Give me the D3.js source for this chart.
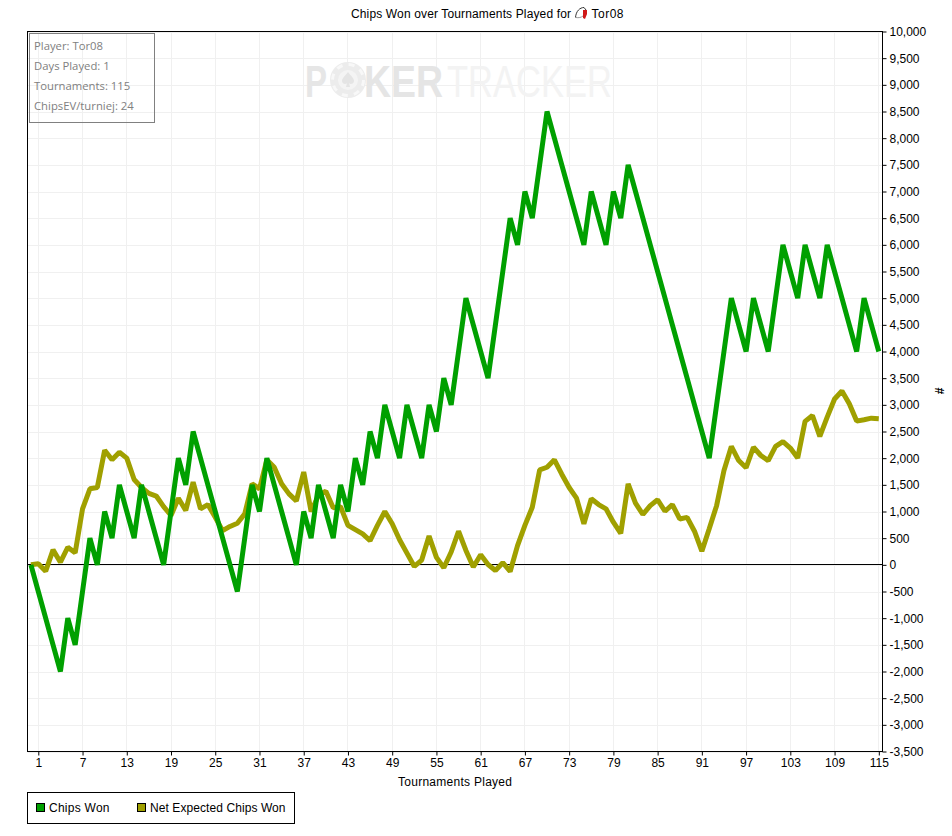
<!DOCTYPE html>
<html><head><meta charset="utf-8">
<script src="https://cdn.jsdelivr.net/npm/d3@7"></script>
<style>
html,body{margin:0;padding:0;background:#fff}
svg{display:block}
text{font-family:"Liberation Sans",Arial,sans-serif;font-size:12px;fill:#000}
.info text{font-family:"Open Sans","Noto Sans",sans-serif;font-size:11.3px;fill:#808080}
.wm text{font-family:"Liberation Sans",sans-serif;font-size:44px}
</style></head><body><div id="c"></div>
<script>
const games = d3.range(0,116);
const chipsWon = [0,-500,-1000,-1500,-2000,-1000,-1500,-500,500,0,1000,500,1500,1000,500,1500,1000,500,0,1000,2000,1500,2500,2000,1500,1000,500,0,-500,500,1500,1000,2000,1500,1000,500,0,1000,500,1500,1000,500,1500,1000,2000,1500,2500,2000,3000,2500,2000,3000,2500,2000,3000,2500,3500,3000,4000,5000,4500,4000,3500,4500,5500,6500,6000,7000,6500,7500,8500,8000,7500,7000,6500,6000,7000,6500,6000,7000,6500,7500,7000,6500,6000,5500,5000,4500,4000,3500,3000,2500,2000,3000,4000,5000,4500,4000,5000,4500,4000,5000,6000,5500,5000,6000,5500,5000,6000,5500,5000,4500,4000,5000,4500,4000];
const netExpected = [0,20,-120,280,50,330,225,1050,1425,1450,2150,1970,2110,2000,1600,1450,1340,1290,1090,925,1250,1020,1550,1050,1130,890,640,720,780,955,1520,1425,1970,1830,1520,1330,1200,1740,1000,1300,1380,1070,1090,740,660,580,455,740,1000,770,470,220,-30,90,540,140,-55,240,630,270,-40,190,5,-105,40,-125,360,740,1080,1780,1830,1970,1700,1450,1250,770,1240,1130,1050,800,590,1520,1155,945,1110,1220,1005,1130,860,890,630,255,675,1110,1770,2220,1955,1820,2205,2050,1955,2220,2310,2190,2005,2690,2800,2410,2770,3110,3260,3020,2695,2720,2750,2740];
const xTicks = [1,7,13,19,25,31,37,43,49,55,61,67,73,79,85,91,97,103,109,115];
const yTicks = d3.range(-3500,10001,500);
const infoLines = ["Player: Tor08","Days Played: 1","Tournaments: 115","ChipsEV/turniej: 24"];
const seriesNames = ["Chips Won","Net Expected Chips Won"];
const seriesColors = ["#00a000","#a0a000"];

const W=952,H=836,L=27.5,R=882.5,T=31.5,B=751.5;
const svg=d3.select("#c").append("svg").attr("width",W).attr("height",H);
const x=d3.scaleLinear().domain([1,115]).range([38.3,878.8]);
const y=d3.scaleLinear().domain([-3500,10000]).range([B,T]);

const grid=svg.append("g").attr("stroke","#f0f0f0").attr("stroke-width",1);
grid.selectAll(".h").data(yTicks).join("line").attr("x1",L).attr("x2",R)
  .attr("y1",d=>Math.round(y(d))+.5).attr("y2",d=>Math.round(y(d))+.5);
grid.selectAll(".v").data(xTicks).join("line").attr("y1",T).attr("y2",B)
  .attr("x1",d=>Math.floor(x(d))+.5).attr("x2",d=>Math.floor(x(d))+.5);

// faint watermark
const wm=svg.append("g").attr("class","wm");
wm.append("text").attr("transform","translate(305,96.5) scale(.75,1)").style("font-weight",700).style("fill","#e6e6e6").text("P");
wm.append("circle").attr("cx",348).attr("cy",80).attr("r",18).attr("fill","#ececec");
wm.append("circle").attr("cx",348).attr("cy",80).attr("r",15.5).attr("fill","none").attr("stroke","#f8f8f8").attr("stroke-width",3).attr("stroke-dasharray","6 6.2");
wm.append("circle").attr("cx",348).attr("cy",80).attr("r",10).attr("fill","#f4f4f4");
wm.append("path").attr("d","M348,72C351,76 354,78 354,81C354,84 350,85 349,83L350,87L346,87L347,83C346,85 342,84 342,81C342,78 345,76 348,72Z").attr("fill","#e4e4e4");
wm.append("text").attr("transform","translate(364,96.5) scale(.85,1)").style("font-weight",700).style("fill","#e5e5e5").text("KER");
wm.append("text").attr("transform","translate(447,96.5) scale(.785,1)").style("fill","#f3f3f3").text("TRACKER");

// zero line
svg.append("line").attr("x1",L).attr("x2",R).attr("y1",Math.round(y(0))-.5).attr("y2",Math.round(y(0))-.5).attr("stroke","#000");

const line=s=>d3.line().x((d,i)=>x(games[i])).y(d=>y(d))(s);
svg.append("path").attr("d",line(netExpected)).attr("fill","none").attr("stroke",seriesColors[1]).attr("stroke-width",5).attr("stroke-linejoin","bevel");
svg.append("path").attr("d",line(chipsWon)).attr("fill","none").attr("stroke",seriesColors[0]).attr("stroke-width",5).attr("stroke-linejoin","bevel");

// axes
const ax=svg.append("g").attr("transform",`translate(0,${B})`).call(d3.axisBottom(x).tickValues(xTicks).tickSize(4).tickPadding(3).tickFormat(d3.format("d")));
const ay=svg.append("g").attr("transform",`translate(${R},0)`).call(d3.axisRight(y).tickValues(yTicks).tickSize(4).tickPadding(3).tickFormat(d3.format(",")));
[ax,ay].forEach(a=>{a.attr("font-family",null).attr("font-size",null);a.selectAll("text").style("font-size","12px").style("fill","#000");a.selectAll("line").attr("stroke","#000");a.select(".domain").remove();});
ay.selectAll("text").text(d=>d3.format(",")(d).replace("−","-"));
svg.append("rect").attr("x",L).attr("y",T).attr("width",R-L).attr("height",B-T).attr("fill","none").attr("stroke","#000");

// labels
svg.append("text").attr("x",398).attr("y",786).attr("textLength",114).text("Tournaments Played");
svg.append("text").attr("transform","translate(944,391) rotate(-90)").attr("text-anchor","middle").style("font-weight",700).text("#");
svg.append("text").attr("x",351).attr("y",18).attr("textLength",220).text("Chips Won over Tournaments Played for");
svg.append("text").attr("x",591.5).attr("y",18).attr("textLength",32).text("Tor08");
const ic=svg.append("g").attr("transform","translate(581,13)");
ic.append("path").attr("d","M-5.5,4.5C-5,-2 -1,-5.5 3,-5.5L5,-3").attr("fill","none").attr("stroke","#333").attr("stroke-width",1);
ic.append("path").attr("d","M-5.5,4.5C-2,5 0,4.5 2,3").attr("fill","none").attr("stroke","#999").attr("stroke-width",1);
ic.append("path").attr("d","M2,-3L6,-3L6,1L4,6L2,5Z").attr("fill","#d01818");

// info box
const info=svg.append("g").attr("class","info");
info.append("rect").attr("x",29.5).attr("y",33.5).attr("width",125).attr("height",89).attr("fill","none").attr("stroke","#808080");
info.selectAll("text").data(infoLines).join("text").attr("x",34).attr("y",(d,i)=>50+i*20).text(d=>d);

// legend
const lg=svg.append("g");
lg.append("rect").attr("x",27.5).attr("y",792.5).attr("width",267).attr("height",31).attr("fill","#fff").attr("stroke","#000");
const lx=[36.5,137.5],tx=[49,150],tw=[60.5,135.5];
seriesNames.forEach((n,i)=>{
  lg.append("rect").attr("x",lx[i]).attr("y",803.5).attr("width",8).attr("height",8).attr("fill",seriesColors[i]).attr("stroke","#000");
  lg.append("text").attr("x",tx[i]).attr("y",812).attr("textLength",tw[i]).text(n);
});
</script></body></html>
